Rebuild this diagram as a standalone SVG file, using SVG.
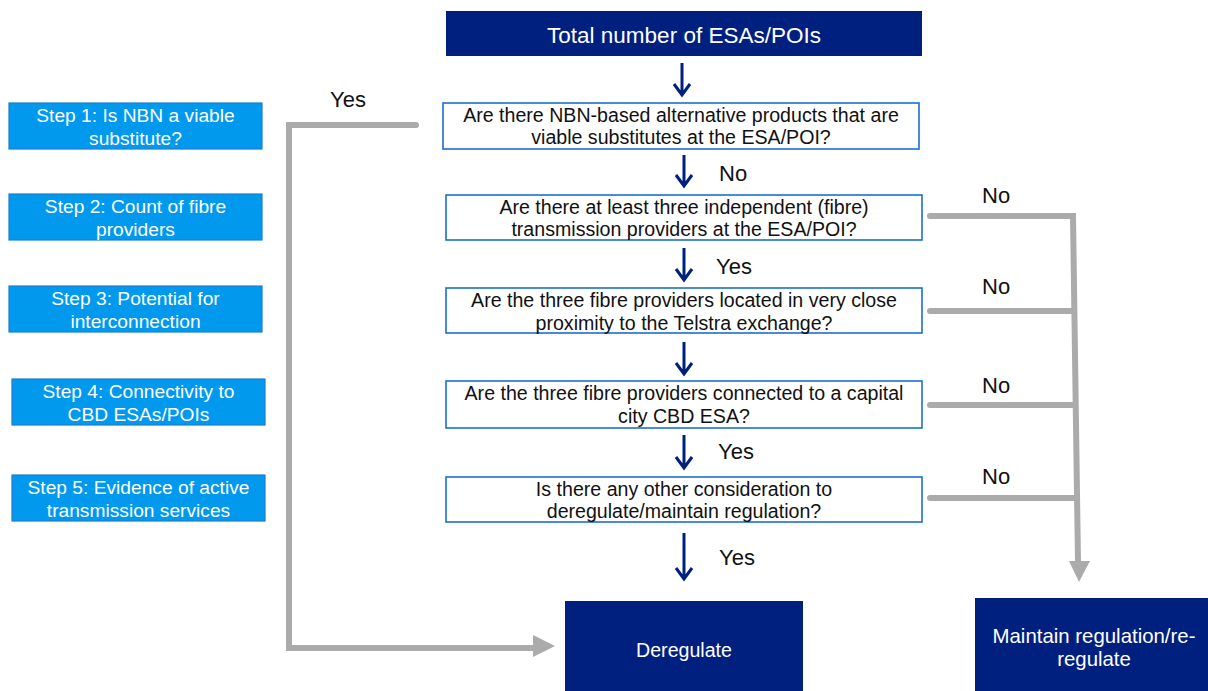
<svg xmlns="http://www.w3.org/2000/svg" width="1208" height="691" viewBox="0 0 1208 691">
<style>
text{font-family:"Liberation Sans",Arial,sans-serif;}
.navy{fill:#00207F;}
.wt{fill:#fff;text-anchor:middle;}
.q{fill:#fff;stroke:#1C6FD0;stroke-width:1.6;}
.qt{fill:#111;font-size:19.6px;text-anchor:middle;}
.step{fill:#0099EE;stroke:#1A7FCC;stroke-width:1.2;}
.st{fill:#fff;font-size:19.2px;text-anchor:middle;}
.lbl{fill:#111;font-size:22px;}
.grey{fill:none;stroke:#ABABAB;stroke-width:6;stroke-linecap:round;stroke-linejoin:miter;}
.ga{fill:#ABABAB;}
.na{fill:none;stroke:#00207F;stroke-width:3;}
</style>

<g id="steps">
<g id="step1"><rect class="step" x="9" y="103" width="253" height="46"/><text class="st" x="135.5" y="122">Step 1: Is NBN a viable</text><text class="st" x="135.5" y="145">substitute?</text></g>
<g id="step2"><rect class="step" x="9" y="194" width="253" height="46"/><text class="st" x="135.5" y="213">Step 2: Count of fibre</text><text class="st" x="135.5" y="236">providers</text></g>
<g id="step3"><rect class="step" x="9" y="286" width="253" height="46"/><text class="st" x="135.5" y="305">Step 3: Potential for</text><text class="st" x="135.5" y="328">interconnection</text></g>
<g id="step4"><rect class="step" x="12" y="379" width="253" height="46"/><text class="st" x="138.5" y="398">Step 4: Connectivity to</text><text class="st" x="138.5" y="421">CBD ESAs/POIs</text></g>
<g id="step5"><rect class="step" x="12" y="475" width="253" height="46"/><text class="st" x="138.5" y="494">Step 5: Evidence of active</text><text class="st" x="138.5" y="517">transmission services</text></g>
</g>

<g id="total"><rect class="navy" x="446" y="11" width="476" height="45"/><text class="wt" x="684" y="43" font-size="22.5">Total number of ESAs/POIs</text></g>

<g id="q1"><rect class="q" x="443" y="103" width="476" height="46"/><text class="qt" x="681" y="122">Are there NBN-based alternative products that are</text><text class="qt" x="681" y="144">viable substitutes at the ESA/POI?</text></g>
<g id="q2"><rect class="q" x="446" y="195" width="476" height="45"/><text class="qt" x="684" y="214">Are there at least three independent (fibre)</text><text class="qt" x="684" y="236">transmission providers at the ESA/POI?</text></g>
<g id="q3"><rect class="q" x="446" y="288" width="476" height="45"/><text class="qt" x="684" y="307">Are the three fibre providers located in very close</text><text class="qt" x="684" y="330">proximity to the Telstra exchange?</text></g>
<g id="q4"><rect class="q" x="446" y="381" width="476" height="47"/><text class="qt" x="684" y="400">Are the three fibre providers connected to a capital</text><text class="qt" x="684" y="423">city CBD ESA?</text></g>
<g id="q5"><rect class="q" x="446" y="477" width="476" height="45"/><text class="qt" x="684" y="496">Is there any other consideration to</text><text class="qt" x="684" y="518">deregulate/maintain regulation?</text></g>

<g id="deregulate"><rect class="navy" x="565" y="601" width="238" height="90"/><text class="wt" x="684" y="657" font-size="19.6">Deregulate</text></g>
<g id="maintain"><rect class="navy" x="975" y="598" width="233" height="93"/><text class="wt" x="1094" y="643" font-size="20.4">Maintain regulation/re-</text><text class="wt" x="1094" y="666" font-size="20.4">regulate</text></g>

<g id="connectors">
<path class="na" d="M682 63V95M674 84L682 95L690 84"/>
<path class="na" d="M684 155V186M676 175L684 186L692 175"/>
<path class="na" d="M684 248V280M676 269L684 280L692 269"/>
<path class="na" d="M684 342V374M676 363L684 374L692 363"/>
<path class="na" d="M684 435V468M676 457L684 468L692 457"/>
<path class="na" d="M684 533V579M676 568L684 579L692 568"/>

<path class="grey" d="M416 125H289V648H535"/>
<polygon class="ga" points="533,635 555,646 533,657"/>

<path class="grey" d="M930 216H1073L1078 562"/>
<path class="grey" d="M930 311H1074"/>
<path class="grey" d="M930 405H1075"/>
<path class="grey" d="M930 498H1076"/>
<polygon class="ga" points="1069,561 1090,561 1079,582"/>

<text class="lbl" x="330" y="107">Yes</text>
<text class="lbl" x="719" y="181">No</text>
<text class="lbl" x="716" y="274">Yes</text>
<text class="lbl" x="718" y="459">Yes</text>
<text class="lbl" x="719" y="565">Yes</text>
<text class="lbl" x="982" y="203">No</text>
<text class="lbl" x="982" y="294">No</text>
<text class="lbl" x="982" y="393">No</text>
<text class="lbl" x="982" y="484">No</text>
</g>
</svg>
